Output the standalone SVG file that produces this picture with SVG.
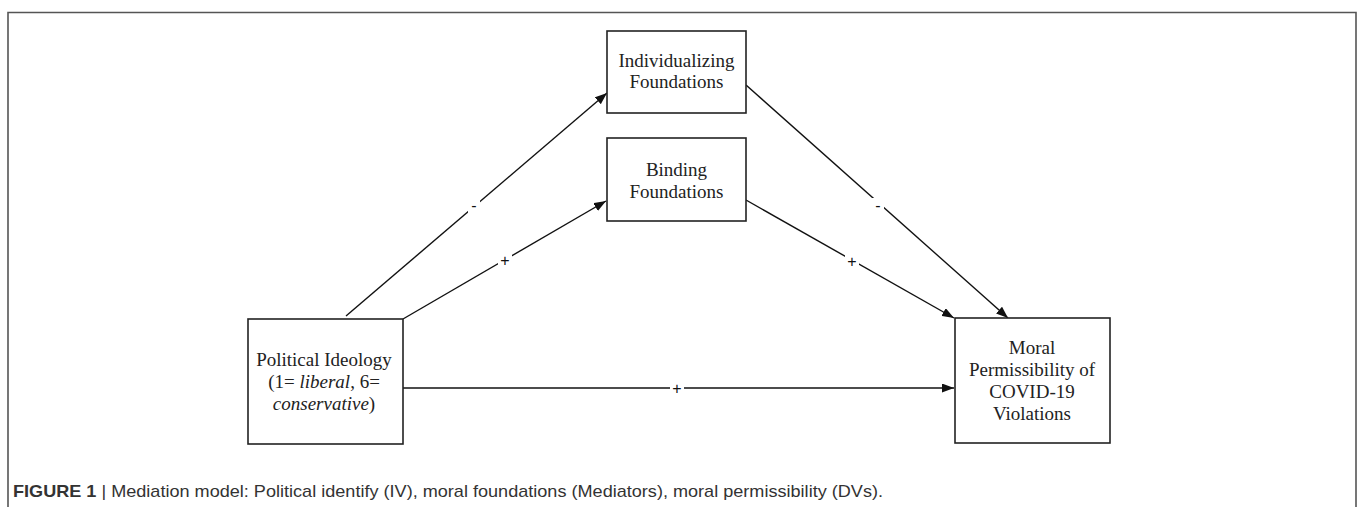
<svg xmlns="http://www.w3.org/2000/svg" width="1357" height="507" viewBox="0 0 1357 507">
<style>
.frame{fill:none;stroke:#555;stroke-width:1.6}
.box{fill:#fff;stroke:#222;stroke-width:1.6}
.t{font-family:"Liberation Serif","Times New Roman",serif;font-size:19px;fill:#222;text-anchor:middle}
.edge{fill:none;stroke:#111;stroke-width:1.4}
.lbl{font-family:"Liberation Sans",Arial,sans-serif;font-size:16px;fill:#111;text-anchor:middle}
.cap{font-family:"Liberation Sans",Arial,sans-serif;font-size:17px;fill:#333}
</style>
<defs>
<marker id="ah" viewBox="0 0 12 9" refX="12" refY="4.5" markerWidth="12" markerHeight="9" markerUnits="userSpaceOnUse" orient="auto">
<path d="M0,0 L12,4.5 L0,9 Z" fill="#111"/>
</marker>
</defs>
<rect width="1357" height="507" fill="#fff"/>
<path class="frame" d="M8,507 V12.5 H1356 V507"/>
<g id="connectors">
<line class="edge" x1="346" y1="316" x2="607" y2="93" marker-end="url(#ah)"/>
<line class="edge" x1="403" y1="319" x2="606" y2="201" marker-end="url(#ah)"/>
<line class="edge" x1="746" y1="85" x2="1008" y2="318" marker-end="url(#ah)"/>
<line class="edge" x1="746" y1="200" x2="954" y2="318" marker-end="url(#ah)"/>
<line class="edge" x1="403" y1="388" x2="954" y2="388" marker-end="url(#ah)"/>
<g id="edge-labels">
<rect x="468" y="198" width="12" height="15" fill="#fff"/>
<text class="lbl" x="474" y="211">-</text>
<rect x="498" y="252" width="14" height="15" fill="#fff"/>
<text class="lbl" x="505" y="266">+</text>
<rect x="872" y="198" width="12" height="15" fill="#fff"/>
<text class="lbl" x="878" y="211">-</text>
<rect x="845" y="253" width="14" height="15" fill="#fff"/>
<text class="lbl" x="852" y="267">+</text>
<rect x="670" y="381" width="14" height="15" fill="#fff"/>
<text class="lbl" x="677" y="394">+</text>
</g>
</g>
<g id="individualizing">
<rect class="box" x="607" y="31" width="139" height="82"/>
<text class="t" x="676.5" y="67">Individualizing</text>
<text class="t" x="676.5" y="88">Foundations</text>
</g>
<g id="binding">
<rect class="box" x="607" y="138" width="139" height="83"/>
<text class="t" x="676.5" y="176">Binding</text>
<text class="t" x="676.5" y="198">Foundations</text>
</g>
<g id="political">
<rect class="box" x="248" y="319" width="155" height="125"/>
<text class="t" x="324" y="366">Political Ideology</text>
<text class="t" x="324" y="388">(1= <tspan font-style="italic">liberal</tspan>, 6=</text>
<text class="t" x="324" y="410"><tspan font-style="italic">conservative</tspan>)</text>
</g>
<g id="moral">
<rect class="box" x="955" y="318" width="155" height="125"/>
<text class="t" x="1032" y="354">Moral</text>
<text class="t" x="1032" y="376">Permissibility of</text>
<text class="t" x="1032" y="398">COVID-19</text>
<text class="t" x="1032" y="420">Violations</text>
</g>
<text class="cap" x="13" y="497" textLength="870" lengthAdjust="spacingAndGlyphs"><tspan font-weight="bold">FIGURE 1</tspan> | Mediation model: Political identify (IV), moral foundations (Mediators), moral permissibility (DVs).</text>
</svg>
